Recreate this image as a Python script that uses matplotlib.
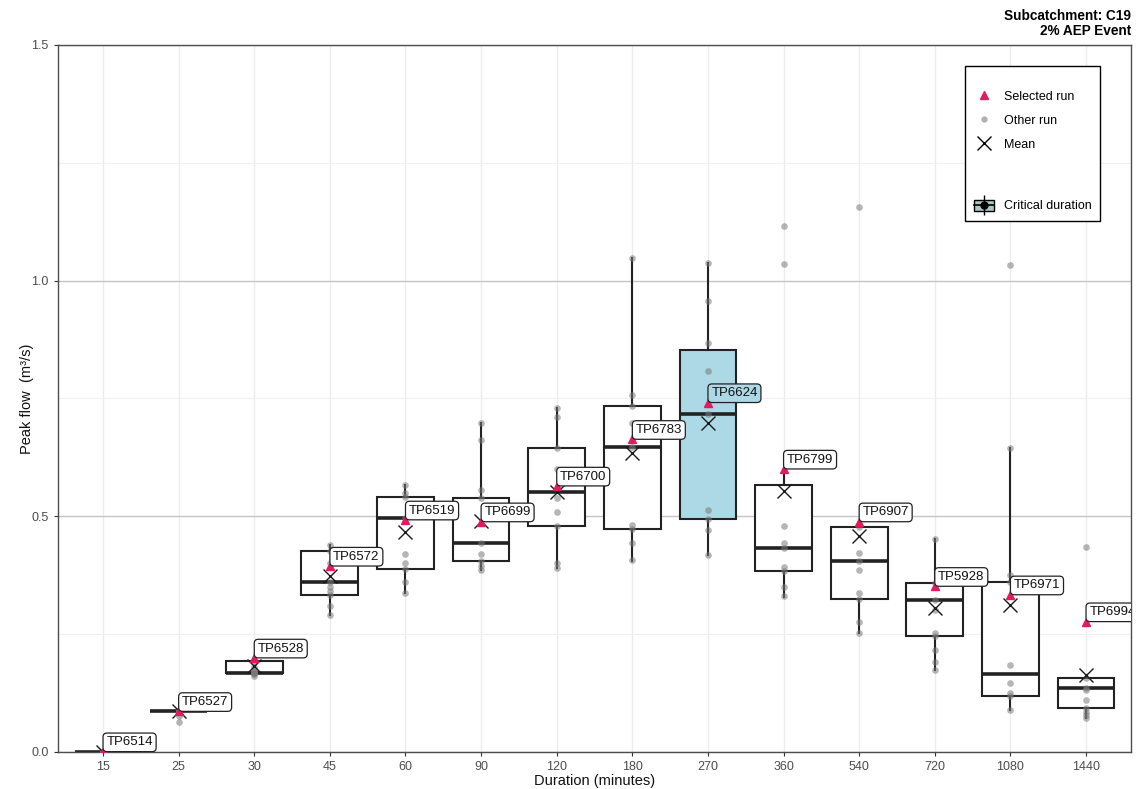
import numpy as np
import matplotlib.pyplot as plt
from matplotlib.lines import Line2D
from matplotlib.patches import Rectangle
from matplotlib.legend_handler import HandlerTuple

plt.rcParams['font.family'] = ['Liberation Sans', 'DejaVu Sans']

# durations (minutes) and box statistics
durations = ['15', '25', '30', '45', '60', '90', '120', '180', '270', '360', '540', '720', '1080', '1440']
q1 = [0, 0.0855, 0.167, 0.333, 0.3875, 0.405, 0.479, 0.472, 0.494, 0.384, 0.324, 0.246, 0.119, 0.093]
med = [0, 0.0855, 0.168, 0.361, 0.497, 0.443, 0.551, 0.6475, 0.717, 0.433, 0.404, 0.322, 0.165, 0.135]
q3 = [0, 0.0865, 0.1915, 0.425, 0.541, 0.538, 0.645, 0.734, 0.853, 0.566, 0.4765, 0.358, 0.361, 0.156]
wlo = [0, 0.0855, 0.167, 0.29, 0.337, 0.386, 0.39, 0.405, 0.418, 0.329, 0.252, 0.174, 0.089, 0.072]
whi = [0, 0.0865, 0.1915, 0.439, 0.566, 0.698, 0.729, 1.047, 1.038, 0.6, 0.488, 0.451, 0.644, 0.156]

selected = [0, 0.0855, 0.199, 0.394, 0.492, 0.488, 0.564, 0.663, 0.741, 0.6, 0.488, 0.351, 0.333, 0.276]
sel_labels = ['TP6514', 'TP6527', 'TP6528', 'TP6572', 'TP6519', 'TP6699', 'TP6700',
              'TP6783', 'TP6624', 'TP6799', 'TP6907', 'TP5928', 'TP6971', 'TP6994']
means = [0, 0.086, 0.181, 0.372, 0.467, 0.49, 0.552, 0.633, 0.698, 0.554, 0.457, 0.305, 0.312, 0.163]
critical = '270'

# other runs per duration
other_runs = [
    [0, 0, 0, 0, 0, 0, 0, 0, 0],
    [0.0855, 0.0855, 0.0855, 0.0855, 0.086, 0.086, 0.0865, 0.075, 0.062],
    [0.167, 0.167, 0.168, 0.17, 0.18, 0.19, 0.16, 0.165, 0.172],
    [0.439, 0.425, 0.40, 0.361, 0.35, 0.34, 0.333, 0.31, 0.29],
    [0.566, 0.55, 0.541, 0.497, 0.42, 0.40, 0.3875, 0.36, 0.337],
    [0.698, 0.662, 0.556, 0.538, 0.443, 0.42, 0.405, 0.395, 0.386],
    [0.729, 0.71, 0.645, 0.60, 0.539, 0.508, 0.479, 0.40, 0.39],
    [1.047, 0.757, 0.734, 0.698, 0.6475, 0.481, 0.472, 0.443, 0.407],
    [1.038, 0.957, 0.867, 0.807, 0.717, 0.513, 0.494, 0.471, 0.418],
    [1.116, 1.035, 0.479, 0.443, 0.433, 0.393, 0.384, 0.35, 0.33],
    [1.157, 0.4765, 0.421, 0.404, 0.386, 0.337, 0.324, 0.276, 0.252],
    [0.451, 0.358, 0.322, 0.30, 0.252, 0.246, 0.216, 0.19, 0.174],
    [1.033, 0.644, 0.375, 0.361, 0.185, 0.146, 0.125, 0.119, 0.089],
    [0.434, 0.156, 0.135, 0.13, 0.11, 0.093, 0.085, 0.078, 0.072],
]

sel_col = '#e41a5c'
crit_fill = '#add8e6'
dark = '#222222'

fig = plt.figure(figsize=(11.39, 7.89), dpi=100)
ax = fig.add_axes([0.0506, 0.0473, 0.9427, 0.8957])

pos = np.arange(1, len(durations) + 1)

stats = []
for i in range(len(durations)):
    stats.append(dict(med=med[i], q1=q1[i], q3=q3[i], whislo=wlo[i], whishi=whi[i], fliers=[]))

bp = ax.bxp(stats, positions=pos, widths=0.75, patch_artist=True, showfliers=False, showcaps=False,
            boxprops=dict(facecolor='white', edgecolor=dark, linewidth=1.5),
            medianprops=dict(color=dark, linewidth=2.6),
            whiskerprops=dict(color=dark, linewidth=1.5), zorder=2)
for i, b in enumerate(bp['boxes']):
    if durations[i] == critical:
        b.set_facecolor(crit_fill)

for i, vals in enumerate(other_runs):
    ax.plot(np.full(len(vals), pos[i]), vals, 'o', color='#7a7a7a', alpha=0.55, ms=4.8,
            mec='none', zorder=3)

ax.plot(pos, means, ls='none', marker='x', color='#1a1a1a', ms=10, mew=1.0, zorder=4)
ax.plot(pos, selected, ls='none', marker='^', color=sel_col, ms=6, zorder=5)

for i, lbl in enumerate(sel_labels):
    fc = crit_fill if durations[i] == critical else 'white'
    ax.annotate(lbl, (pos[i], selected[i]), xytext=(2.4, 2.4), textcoords='offset points',
                ha='left', va='bottom', fontsize=9.5, color='#111111',
                bbox=dict(boxstyle='round,pad=0.25,rounding_size=0.3', fc=fc, ec=dark, lw=0.9),
                clip_on=True, zorder=6)

ax.set_xlim(0.4, len(durations) + 0.6)
ax.set_ylim(0, 1.5)
ax.set_xticks(pos)
ax.set_xticklabels(durations)
ax.set_yticks([0, 0.5, 1.0, 1.5])
ax.set_yticklabels(['0.0', '0.5', '1.0', '1.5'])
ax.set_yticks([0.25, 0.75, 1.25], minor=True)
ax.tick_params(axis='both', which='major', labelsize=9, labelcolor='#4d4d4d', color='#333333',
               length=3, width=0.8)
ax.tick_params(axis='y', which='minor', length=0)

ax.grid(which='major', axis='y', color='#c4c4c4', lw=1.0, zorder=0)
ax.grid(which='minor', axis='y', color='#f0f0f0', lw=0.8, zorder=0)
ax.grid(which='major', axis='x', color='#ececec', lw=1.0, zorder=0)
ax.set_axisbelow(True)
for s in ax.spines.values():
    s.set_color('#4d4d4d')
    s.set_linewidth(1.0)

ax.set_xlabel('Duration (minutes)', fontsize=10.5, color='#111111', labelpad=1)
ax.set_ylabel('Peak flow  (m³/s)', fontsize=10.5, color='#111111', labelpad=-2)

fig.text(0.993, 0.989, 'Subcatchment: C19\n2% AEP Event', ha='right', va='top',
         fontsize=9.8, fontweight='bold', linespacing=1.15)

# legend
h_sel = Line2D([], [], ls='none', marker='^', color=sel_col, ms=6)
h_oth = Line2D([], [], ls='none', marker='o', color='#7a7a7a', alpha=0.6, ms=4.5, mec='none')
h_mean = Line2D([], [], ls='none', marker='x', color='black', ms=10, mew=1.0)
h_gap = Line2D([], [], ls='none')
h_box = Rectangle((0, 0), 1, 1, fc='#a9c7c4', ec='black', lw=1.0)
h_whisk = Line2D([], [], ls='none', marker='|', color='black', ms=14, mew=1.0)
h_med = Line2D([], [], color='black', lw=1.2, marker='o', ms=5)
leg = ax.legend([h_sel, h_oth, h_mean, h_gap, (h_box, h_whisk, h_med)],
                ['Selected run', 'Other run', 'Mean', '\n', 'Critical duration'],
                handler_map={tuple: HandlerTuple(ndivide=1)},
                loc='upper right', bbox_to_anchor=(0.971, 0.970), fontsize=9,
                title=' ', title_fontsize=2.5,
                frameon=True, fancybox=False, edgecolor='black', framealpha=1,
                borderpad=0.7, labelspacing=0.9, handlelength=1.6, handleheight=1.0,
                handletextpad=0.8, borderaxespad=0)
leg.get_frame().set_linewidth(1.0)
leg.set_zorder(10)

fig.savefig('out.png', dpi=100)
